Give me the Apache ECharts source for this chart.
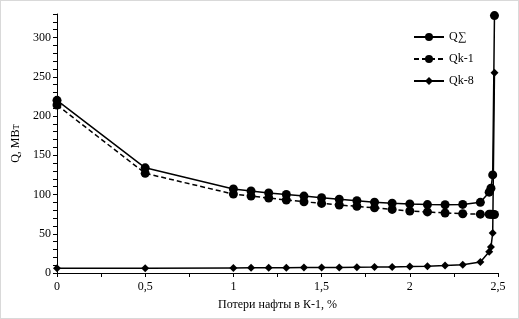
<!DOCTYPE html>
<html>
<head>
<meta charset="utf-8" />
<title></title>
<script src="https://cdn.jsdelivr.net/npm/echarts@6/dist/echarts.min.js"></script>
<style>
	body{ padding:0px; margin:0px; background:#fff; }
	#main{ width:517px; height:317px; border:1px solid #d9d9d9; }
</style>
</head>
<body>
<div id="main"></div>
<script type="text/javascript">
// потери нафты, %
var losses = [0, 0.5, 1, 1.1, 1.2, 1.3, 1.4, 1.5, 1.6, 1.7, 1.8, 1.9, 2.0, 2.1, 2.2, 2.3, 2.4, 2.45, 2.46, 2.47, 2.48]
var qSum = [220, 134, 107, 104.5, 102, 100, 98, 96, 94, 92, 90.3, 89, 88, 87.2, 87, 87.4, 90, 103, 108, 125, 328]
var qk1 = [214, 127, 100.5, 98, 95.5, 93, 90.8, 88.7, 86.6, 85, 83, 81, 79, 77.8, 76.5, 75.5, 75, 74.8, 74.7, 74.6, 74.5]
var qk8 = [6, 6.2, 6.5, 6.6, 6.7, 6.8, 6.9, 7, 7.1, 7.3, 7.5, 7.8, 8.2, 8.7, 9.5, 10.5, 14, 27, 33, 51, 255]
var seriesNames = ['Q\u2211', 'Qk-1', 'Qk-8']

function pairs(ys) {
	return losses.map(function (x, i) { return [x, ys[i]] })
}

var font = 'Liberation Serif'
var mychart = echarts.init(document.getElementById('main'))

var tickAxisX = {
	type: 'value', min: 0, max: 2.5, interval: 0.5,
	axisLine: { show: false },
	axisTick: { show: true, inside: true, length: 4, lineStyle: { color: '#000' } },
	minorTick: { show: true, splitNumber: 2, length: 4, lineStyle: { color: '#000' } },
	axisLabel: { show: false },
	splitLine: { show: false }
}
var tickAxisY = {
	type: 'value', min: 0, max: 330, interval: 50,
	axisLine: { show: false },
	axisTick: { show: true, inside: true, length: 4, lineStyle: { color: '#000' } },
	minorTick: { show: true, splitNumber: 5, length: 4, lineStyle: { color: '#000' } },
	axisLabel: { show: false },
	splitLine: { show: false }
}

mychart.setOption({
	animation: false,
	textStyle: { fontFamily: font, color: '#000' },
	grid: { left: 56, right: 20, top: 13, bottom: 45 },
	legend: {
		orient: 'vertical',
		left: 407, top: 25,
		itemWidth: 30, itemHeight: 10, itemGap: 10,
		textStyle: { fontFamily: font, fontSize: 12, color: '#000' },
		data: seriesNames
	},
	xAxis: [{
		type: 'value', min: 0, max: 2.5, interval: 0.5,
		name: 'Потери нафты в К-1, %',
		nameLocation: 'middle', nameGap: 26,
		nameTextStyle: { fontFamily: font, fontSize: 12, color: '#000' },
		axisLine: { lineStyle: { color: '#000', width: 1 } },
		axisTick: { length: 4, lineStyle: { color: '#000' } },
		axisLabel: {
			fontFamily: font, fontSize: 12, color: '#000', margin: 8,
			formatter: function (v) { return String(v).replace('.', ',') }
		},
		splitLine: { show: false }
	}, tickAxisX],
	yAxis: [{
		type: 'value', min: 0, max: 330, interval: 50,
		name: 'Q, МВт',
		nameLocation: 'middle', nameGap: 27,
		nameTextStyle: { fontFamily: font, fontSize: 12, color: '#000' },
		axisLine: { show: true, lineStyle: { color: '#000', width: 1 } },
		axisTick: { length: 4, lineStyle: { color: '#000' } },
		axisLabel: { fontFamily: font, fontSize: 12, color: '#000', margin: 6, showMaxLabel: false },
		splitLine: { show: false }
	}, tickAxisY],
	series: [{
		name: seriesNames[0], type: 'line', data: pairs(qSum),
		symbol: 'circle', symbolSize: 9,
		itemStyle: { color: '#000' },
		lineStyle: { color: '#000', width: 1.5 }
	}, {
		name: seriesNames[1], type: 'line', data: pairs(qk1),
		symbol: 'circle', symbolSize: 9,
		itemStyle: { color: '#000' },
		lineStyle: { color: '#000', width: 1.5, type: [5, 3] }
	}, {
		name: seriesNames[2], type: 'line', data: pairs(qk8),
		symbol: 'diamond', symbolSize: 8,
		itemStyle: { color: '#000' },
		lineStyle: { color: '#000', width: 1.5 }
	}]
})
</script>
</body>
</html>
